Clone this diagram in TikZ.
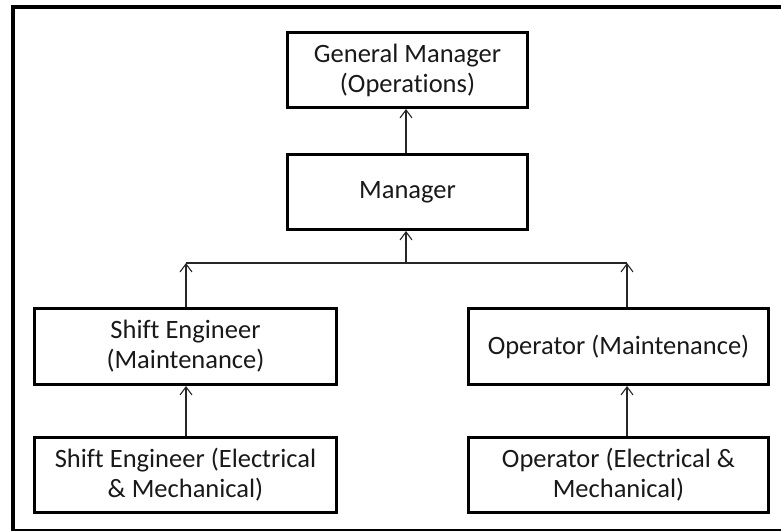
\documentclass[tikz,border=0pt]{standalone}
\usepackage{fontspec}
\setmainfont{Carlito}[Ligatures=NoCommon]
\usetikzlibrary{arrows.meta}
\begin{document}
\begin{tikzpicture}[x=1pt,y=-1pt,
  box/.style={draw=black, line width=3pt, inner sep=0pt, align=center,
    font=\fontsize{26.5}{30}\selectfont, text=black!90},
  arr/.style={draw=black!85, line width=1.1pt, -{Straight Barb[length=8pt,width=12pt,line width=1.1pt]}},
  link/.style={draw=black!85, line width=1.1pt},
  frame/.style={draw=black, line width=4pt}]
\useasboundingbox (0,0) rectangle (781,531);
% frame
\draw[frame] (781,7) -- (13,7) -- (13,531);
\draw[draw=black, line width=1.3pt] (11,530) -- (781,530);
% boxes
\node[box, minimum width=240pt, minimum height=75pt] (GM) at (407.5,70) {General Manager\\(Operations)};
\node[box, minimum width=240pt, minimum height=75pt] (M) at (407.5,192) {Manager};
\node[box, minimum width=302pt, minimum height=76pt] (SE) at (185.5,346.5) {Shift Engineer\\(Maintenance)};
\node[box, minimum width=300pt, minimum height=76pt] (OM) at (618.5,346.5) {Operator (Maintenance)};
\node[box, minimum width=302pt, minimum height=75pt] (SEEM) at (185.5,475) {Shift Engineer (Electrical\\\& Mechanical)};
\node[box, minimum width=300pt, minimum height=75pt] (OEM) at (618.5,475) {Operator (Electrical \&\\Mechanical)};
% junction coordinates
\coordinate (jn) at (406,263);
\coordinate (jl) at (186,263);
\coordinate (jr) at (627,263);
% connectors
\draw[arr] (M.north -| jn) -- (GM.south -| jn);
\draw[link] (jl) -- (jr);
\draw[arr] (jn) -- (jn |- M.south);
\draw[arr] (jl |- SE.north) -- (jl);
\draw[arr] (jr |- OM.north) -- (jr);
\draw[arr] (jl |- SEEM.north) -- (jl |- SE.south);
\draw[arr] (jr |- OEM.north) -- (jr |- OM.south);
\end{tikzpicture}
\end{document}
